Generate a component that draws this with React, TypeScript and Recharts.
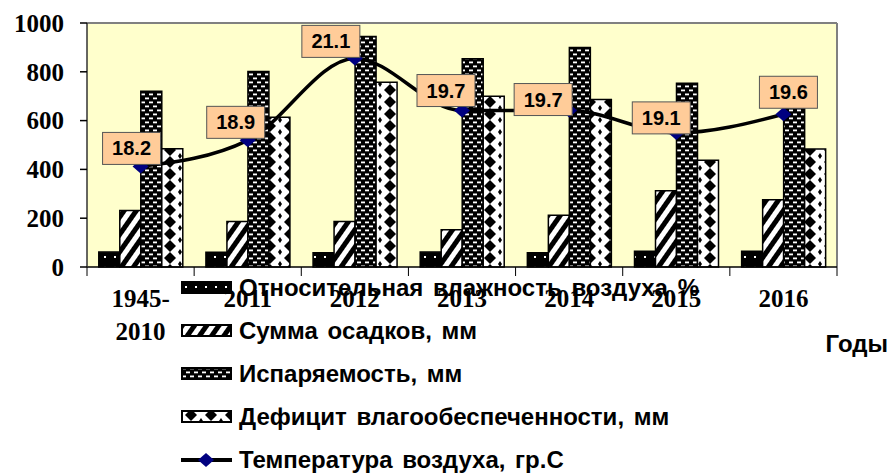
import React from 'react';
import {
  ComposedChart, Bar, Line, XAxis, YAxis, CartesianGrid, Legend, LabelList,
} from 'recharts';

const years = ['1945-2010', '2011', '2012', '2013', '2014', '2015', '2016'];
const humidity = [61, 60, 58, 61, 58, 65, 65];
const precipitation = [232, 186, 186, 153, 212, 312, 276];
const evaporation = [720, 801, 945, 853, 900, 753, 760];
const deficit = [485, 614, 757, 700, 686, 437, 484];
const temperature = [18.2, 18.9, 21.1, 19.7, 19.7, 19.1, 19.6];
const yTicks = [0, 200, 400, 600, 800, 1000];

const seriesNames = {
  humidity: 'Относительная влажность воздуха %',
  precipitation: 'Сумма осадков, мм',
  evaporation: 'Испаряемость, мм',
  deficit: 'Дефицит влагообеспеченности, мм',
  temperature: 'Температура воздуха, гр.С',
};

// layout constants
const W = 890;
const H = 474;
const PLOT_LEFT = 87;
const PLOT_TOP = 23;
const PLOT_RIGHT = 837;
const PLOT_BOTTOM = 267;
const PLOT_W = PLOT_RIGHT - PLOT_LEFT;
const X_AXIS_H = 60;

// manual nudges of the data-label boxes relative to their point (as in the source)
const LABEL_NUDGE = [
  [-9, -18], [-12, -18], [-24, -17], [-16, -20], [-26, -11], [-15, -15], [5, -22],
];

const data = years.map((y, i) => ({
  year: y,
  humidity: humidity[i],
  precipitation: precipitation[i],
  evaporation: evaporation[i],
  deficit: deficit[i],
  temperature: temperature[i],
}));

const SERIF = '"Liberation Serif", "Times New Roman", serif';
const SANS = '"Liberation Sans", Arial, sans-serif';

const Patterns = () => (
  <defs>
    <pattern id="pHum" width="10" height="10" patternUnits="userSpaceOnUse">
      <rect width="10" height="10" fill="#000" />
      <rect x="4" y="6" width="2" height="2" fill="#fff" />
    </pattern>
    <pattern id="pPrec" width="10" height="10" patternUnits="userSpaceOnUse" patternTransform="rotate(35)">
      <rect width="10" height="10" fill="#fff" />
      <rect width="5" height="10" fill="#000" />
    </pattern>
    <pattern id="pEvap" width="8" height="8" patternUnits="userSpaceOnUse">
      <rect width="8" height="8" fill="#000" />
      <rect x="1" y="1.5" width="4" height="1.8" fill="#fff" />
      <rect x="5" y="5.5" width="3" height="1.8" fill="#fff" />
      <rect x="0" y="5.5" width="1" height="1.8" fill="#fff" />
    </pattern>
    <pattern id="pDef" width="20" height="12" patternUnits="userSpaceOnUse">
      <rect width="20" height="12" fill="#fff" />
      <polygon points="10,0 16,6 10,12 4,6" fill="#000" />
      <polygon points="0,0 2,0 0,3" fill="#000" />
      <polygon points="0,12 2,12 0,9" fill="#000" />
      <polygon points="20,0 18,0 20,3" fill="#000" />
      <polygon points="20,12 18,12 20,9" fill="#000" />
    </pattern>
  </defs>
);

const XTick = (props: any) => {
  const { x, payload, index } = props;
  const band = PLOT_W / years.length;
  const label = String(payload.value);
  const dash = label.indexOf('-');
  const lines = dash >= 0 ? [label.slice(0, dash + 1), label.slice(dash + 1)] : [label];
  const baseY = PLOT_BOTTOM + 39.5;
  return (
    <g>
      <line x1={x - band / 2} x2={x - band / 2} y1={PLOT_BOTTOM} y2={PLOT_BOTTOM + 9} stroke="#000" strokeWidth={1} />
      {index === years.length - 1 && (
        <line x1={x + band / 2} x2={x + band / 2} y1={PLOT_BOTTOM} y2={PLOT_BOTTOM + 9} stroke="#000" strokeWidth={1} />
      )}
      <text x={x} y={baseY} textAnchor="middle" fontFamily={SERIF} fontSize={25} fontWeight="bold" fill="#000">
        {lines.map((l, i) => (
          <tspan key={i} x={x} dy={i === 0 ? 0 : 33}>{l}</tspan>
        ))}
      </text>
    </g>
  );
};

const Diamond = (props: any) => {
  const { cx, cy } = props;
  if (cx == null || cy == null) return null;
  return (
    <polygon
      points={`${cx},${cy - 7} ${cx + 8},${cy} ${cx},${cy + 7} ${cx - 8},${cy}`}
      fill="#000080"
    />
  );
};

const TempLabel = (props: any) => {
  const { x, y, value, index } = props;
  const [dx, dy] = LABEL_NUDGE[index] || [0, -20];
  const cx = x + dx;
  const cy = y + dy;
  const bw = 58;
  const bh = 32;
  return (
    <g>
      <rect x={cx - bw / 2} y={cy - bh / 2} width={bw} height={bh} fill="#FFCC99" stroke="#555" strokeWidth={1} />
      <text x={cx} y={cy + 7} textAnchor="middle" fontFamily={SANS} fontSize={20} fontWeight="bold" fill="#000">
        {Number(value).toFixed(1)}
      </text>
    </g>
  );
};

const legendItems = [
  { key: 'humidity', fill: 'url(#pHum)' },
  { key: 'precipitation', fill: 'url(#pPrec)' },
  { key: 'evaporation', fill: 'url(#pEvap)' },
  { key: 'deficit', fill: 'url(#pDef)' },
  { key: 'temperature', fill: null },
];

const LegendContent = () => (
  <div style={{ fontFamily: SANS, fontWeight: 'bold', fontSize: 24, color: '#000' }}>
    {legendItems.map((it) => (
      <div key={it.key} style={{ display: 'flex', alignItems: 'center', height: 43, whiteSpace: 'nowrap' }}>
        <svg width={52} height={16} style={{ marginRight: 6, flex: 'none' }}>
          {it.fill ? (
            <rect x={1} y={2} width={49} height={11} fill={it.fill} stroke="#000" strokeWidth={2} />
          ) : (
            <g>
              <line x1={0} x2={51} y1={8} y2={8} stroke="#000" strokeWidth={4} />
              <polygon points="25,1 33,8 25,15 17,8" fill="#000080" />
            </g>
          )}
        </svg>
        <span style={{ wordSpacing: 3 }}>{(seriesNames as any)[it.key]}</span>
      </div>
    ))}
  </div>
);

const YearsLabel = (props: any) => {
  const vb = props.viewBox || {};
  return (
    <text
      x={vb.x + vb.width + 51}
      y={vb.y + 85}
      textAnchor="end"
      fontFamily={SANS}
      fontSize={24}
      fontWeight="bold"
      fill="#000"
    >
      Годы
    </text>
  );
};

export default function App() {
  return (
    <div style={{ position: 'absolute', left: 0, top: 0, width: W, height: H, background: '#fff' }}>
      <ComposedChart
        width={W}
        height={H}
        data={data}
        margin={{ top: PLOT_TOP, right: W - PLOT_RIGHT, left: 0, bottom: H - PLOT_BOTTOM - X_AXIS_H }}
        barCategoryGap="11%"
        barGap={0}
      >
        <Patterns />
        <CartesianGrid
          fill="#FFFFCC"
          stroke="#808080"
          strokeWidth={2}
          horizontalCoordinatesGenerator={({ offset }: any) => [offset.top]}
          verticalCoordinatesGenerator={({ offset }: any) => [offset.left + offset.width]}
        />
        <XAxis
          dataKey="year"
          height={X_AXIS_H}
          interval={0}
          tickLine={false}
          axisLine={{ stroke: '#000', strokeWidth: 1.5 }}
          tick={<XTick />}
          label={<YearsLabel />}
        />
        <YAxis
          yAxisId="left"
          width={PLOT_LEFT}
          domain={[0, 1000]}
          ticks={yTicks}
          interval={0}
          tickSize={7}
          tickMargin={16}
          axisLine={{ stroke: '#333', strokeWidth: 1.5 }}
          tickLine={{ stroke: '#000', strokeWidth: 1.5 }}
          tick={{ fontFamily: SERIF, fontSize: 25, fontWeight: 'bold', fill: '#000' }}
        />
        <YAxis yAxisId="right" orientation="right" hide domain={[15.5, 22.05]} allowDataOverflow />
        <Bar yAxisId="left" dataKey="humidity" name={seriesNames.humidity} fill="url(#pHum)" stroke="#000" strokeWidth={1.5} isAnimationActive={false} />
        <Bar yAxisId="left" dataKey="precipitation" name={seriesNames.precipitation} fill="url(#pPrec)" stroke="#000" strokeWidth={1.5} isAnimationActive={false} />
        <Bar yAxisId="left" dataKey="evaporation" name={seriesNames.evaporation} fill="url(#pEvap)" stroke="#000" strokeWidth={1.5} isAnimationActive={false} />
        <Bar yAxisId="left" dataKey="deficit" name={seriesNames.deficit} fill="url(#pDef)" stroke="#000" strokeWidth={1.5} isAnimationActive={false} />
        <Line
          yAxisId="right"
          type="monotone"
          dataKey="temperature"
          name={seriesNames.temperature}
          stroke="#000"
          strokeWidth={3.5}
          dot={<Diamond />}
          activeDot={false}
          isAnimationActive={false}
        >
          <LabelList dataKey="temperature" content={<TempLabel />} />
        </Line>
        <Legend
          layout="vertical"
          align="center"
          verticalAlign="middle"
          content={<LegendContent />}
          wrapperStyle={{ left: 181, top: 266, width: 600, height: 215 }}
        />
      </ComposedChart>
    </div>
  );
}
